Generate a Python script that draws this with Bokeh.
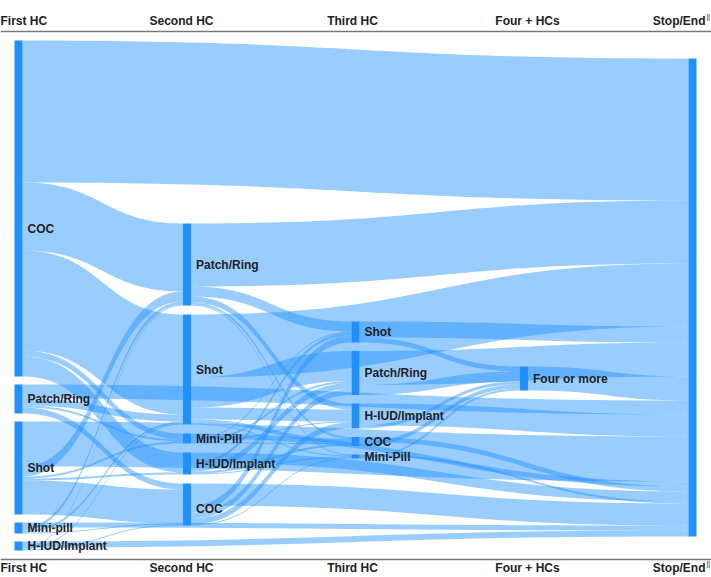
import numpy as np
from bokeh.plotting import figure
from bokeh.models import Range1d, Span, ColumnDataSource
from bokeh.core.properties import value
from bokeh.embed import file_html
from bokeh.resources import INLINE

# ---------------- data ----------------
stage_labels = ["First HC", "Second HC", "Third HC", "Four + HCs", "Stop/End"]

node_keys = ["1COC", "1PR", "1Shot", "1Mini", "1HIUD",
             "2PR", "2Shot", "2Mini", "2HIUD", "2COC",
             "3Shot", "3PR", "3HIUD", "3COC", "3Mini",
             "4", "S"]
node_names = ["COC", "Patch/Ring", "Shot", "Mini-pill", "H-IUD/Implant",
              "Patch/Ring", "Shot", "Mini-Pill", "H-IUD/Implant", "COC",
              "Shot", "Patch/Ring", "H-IUD/Implant", "COC", "Mini-Pill",
              "Four or more", ""]
node_stage = [0, 0, 0, 0, 0, 1, 1, 1, 1, 1, 2, 2, 2, 2, 2, 3, 4]

flow_source = ["1COC", "1COC", "1COC", "1COC", "1COC",
               "1PR", "1PR", "1PR", "1PR",
               "1Shot", "1Shot", "1Shot", "1Shot", "1Shot",
               "1Mini", "1Mini", "1Mini", "1Mini",
               "1HIUD", "1HIUD", "1HIUD", "1HIUD",
               "2PR", "2PR", "2PR", "2PR", "2PR",
               "2Shot", "2Shot", "2Shot", "2Shot", "2Shot",
               "2Mini", "2Mini", "2Mini", "2Mini", "2Mini",
               "2HIUD", "2HIUD", "2HIUD", "2HIUD", "2HIUD",
               "2COC", "2COC", "2COC", "2COC", "2COC",
               "3Shot", "3Shot", "3PR", "3PR", "3HIUD", "3HIUD",
               "3COC", "3COC", "3Mini", "3Mini",
               "4"]
flow_target = ["S", "2PR", "2Shot", "2Mini", "2HIUD",
               "S", "2Shot", "2Mini", "2COC",
               "S", "2PR", "2Mini", "2HIUD", "2COC",
               "S", "2PR", "2Shot", "2COC",
               "S", "2PR", "2Shot", "2COC",
               "S", "3Shot", "3HIUD", "3COC", "3Mini",
               "S", "3PR", "3HIUD", "3COC", "3Mini",
               "S", "3Shot", "3PR", "3HIUD", "3COC",
               "S", "3Shot", "3PR", "3COC", "3Mini",
               "S", "3Shot", "3PR", "3HIUD", "3Mini",
               "S", "4", "S", "4", "S", "4",
               "S", "4", "S", "4",
               "S"]
flow_value = [142, 68, 100, 6, 20,
              14, 7, 2, 6,
              45, 10, 2, 2, 34,
              5, 3, 2, 1,
              6, 1, 1, 1,
              63, 10, 6, 2, 1,
              63, 30, 12, 4, 1,
              5, 1, 2, 1, 1,
              10, 3, 6, 2, 1,
              22, 7, 6, 6, 1,
              16, 5, 34, 10, 22, 3,
              5, 4, 2, 2,
              24]

# ---------------- layout ----------------
W, H = 711, 577
node_w = 8
col_x = np.linspace(14, 688, 5)
col_start = [40, 223, 321, 366, 58]
col_gap = [8, 9, 8.5, 0, 0]
k = 1.0  # pixels per unit
label_dy = {"1COC": 20, "2COC": 4}

idx = {key: i for i, key in enumerate(node_keys)}
n = len(node_keys)
out_sum = np.zeros(n)
in_sum = np.zeros(n)
for s, t, v in zip(flow_source, flow_target, flow_value):
    out_sum[idx[s]] += v
    in_sum[idx[t]] += v
node_val = np.maximum(out_sum, in_sum)

y0 = np.zeros(n)
y1 = np.zeros(n)
x0 = np.zeros(n)
for c in range(5):
    cur = col_start[c]
    for i in range(n):
        if node_stage[i] == c:
            y0[i] = cur
            y1[i] = cur + node_val[i] * k
            x0[i] = col_x[c]
            cur = y1[i] + col_gap[c]
x1 = x0 + node_w

# link stacking (d3-sankey style)
m = len(flow_value)
sy = np.zeros(m)
ty = np.zeros(m)
for i in range(n):
    outs = [j for j in range(m) if idx[flow_source[j]] == i]
    outs.sort(key=lambda j: y0[idx[flow_target[j]]])
    cur = y0[i]
    for j in outs:
        sy[j] = cur
        cur += flow_value[j] * k
    ins = [j for j in range(m) if idx[flow_target[j]] == i]
    ins.sort(key=lambda j: y0[idx[flow_source[j]]])
    cur = y0[i]
    for j in ins:
        ty[j] = cur
        cur += flow_value[j] * k

t = np.linspace(0, 1, 60)
b0 = (1 - t) ** 3
b1 = 3 * (1 - t) ** 2 * t
b2 = 3 * (1 - t) * t ** 2
b3 = t ** 3
xs, ys = [], []
for j in range(m):
    xa = x1[idx[flow_source[j]]]
    xb = x0[idx[flow_target[j]]]
    xm = (xa + xb) / 2
    w = flow_value[j] * k
    bx = b0 * xa + b1 * xm + b2 * xm + b3 * xb
    top = (b0 + b1) * sy[j] + (b2 + b3) * ty[j]
    bot = top + w
    xs.append(np.concatenate([bx, bx[::-1]]).tolist())
    ys.append(np.concatenate([top, bot[::-1]]).tolist())

# ---------------- plot ----------------
p = figure(width=W, height=H, x_range=Range1d(0, W), y_range=Range1d(H, 0),
           output_backend="svg", toolbar_location=None,
           x_axis_type=None, y_axis_type=None, min_border=0)
p.grid.visible = False
p.outline_line_color = None
p.background_fill_color = "white"

p.patches(xs="xs", ys="ys", source=ColumnDataSource(dict(xs=xs, ys=ys)),
          fill_color="#1E90FF", fill_alpha=0.45, line_color=None)

p.quad(left=x0, right=x1, top=y0, bottom=y1, fill_color="#1E90FF",
       line_color=None)

lab_idx = [i for i in range(n) if node_names[i]]
p.text(x=[x1[i] + 5 for i in lab_idx],
       y=[(y0[i] + y1[i]) / 2 + label_dy.get(node_keys[i], 0) for i in lab_idx],
       text=[node_names[i] for i in lab_idx], text_baseline="middle",
       text_align="left", text_font=value("Liberation Sans"),
       text_font_style="bold", text_font_size="12px", text_color="#222222")

# stage headers (top and bottom)
hx = [0, 181, 352, 527, 705]
halign = ["left", "center", "center", "center", "right"]
for yy in (20, 567):
    for lab, xx, al in zip(stage_labels, hx, halign):
        p.text(x=[xx], y=[yy], text=[lab], text_baseline="middle", text_align=al,
               text_font=value("Liberation Sans"), text_font_style="bold",
               text_font_size="12px", text_color="#222222")
    p.text(x=[706], y=[yy - 4], text=["||"], text_baseline="middle", text_align="left",
           text_font=value("Liberation Sans"), text_font_size="7px",
           text_color="#222222")

p.add_layout(Span(location=31, dimension="width", line_color="#777777", line_width=1.5))
p.add_layout(Span(location=559, dimension="width", line_color="#777777", line_width=1.5))

open("out.html", "w").write(file_html(p, INLINE))
